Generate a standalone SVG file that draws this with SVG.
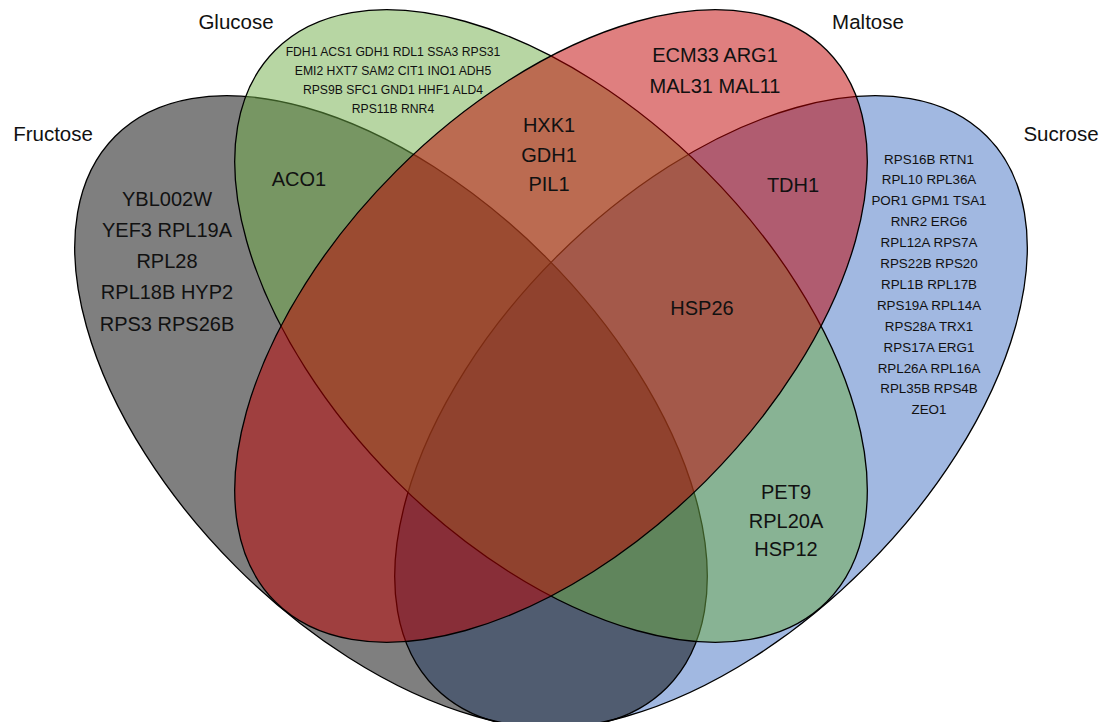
<svg xmlns="http://www.w3.org/2000/svg" width="1105" height="722" viewBox="0 0 1105 722">
<style>
.set{stroke:#000;stroke-width:1.3;fill-opacity:0.5}
text{font-family:"Liberation Sans",Arial,sans-serif;fill:#111;text-anchor:middle}
.lbl{font-size:20.5px}
.big{font-size:20px}
.sm{font-size:13.4px}
.xs{font-size:12.2px}
</style>
<rect width="1105" height="722" fill="#fff"/>
<g id="sets">
<g id="sucrose"><ellipse class="set" cx="0" cy="0" rx="390" ry="219" fill="#4472C4" transform="translate(711,412) rotate(-45)"/></g>
<g id="fructose"><ellipse class="set" cx="0" cy="0" rx="390" ry="219" fill="#000000" transform="translate(391,412) rotate(45)"/></g>
<g id="glucose"><ellipse class="set" cx="0" cy="0" rx="390" ry="219" fill="#70AD47" transform="translate(551,326) rotate(45)"/></g>
<g id="maltose"><ellipse class="set" cx="0" cy="0" rx="390" ry="219" fill="#C00000" transform="translate(551,326) rotate(-45)"/></g>
</g>
<g id="set-labels">
<text class="lbl" x="236" y="29">Glucose</text>
<text class="lbl" x="868" y="29">Maltose</text>
<text class="lbl" x="53" y="141">Fructose</text>
<text class="lbl" x="1061" y="141">Sucrose</text>
</g>
<g id="fructose-only">
<text class="big" x="167" y="206">YBL002W</text>
<text class="big" x="167" y="237">YEF3 RPL19A</text>
<text class="big" x="167" y="268">RPL28</text>
<text class="big" x="167" y="299">RPL18B HYP2</text>
<text class="big" x="167" y="331">RPS3 RPS26B</text>
</g>
<g id="glucose-only">
<text class="xs" x="393" y="55.5">FDH1 ACS1 GDH1 RDL1 SSA3 RPS31</text>
<text class="xs" x="393" y="74.5">EMI2 HXT7 SAM2 CIT1 INO1 ADH5</text>
<text class="xs" x="393" y="93.5">RPS9B SFC1 GND1 HHF1 ALD4</text>
<text class="xs" x="393" y="112.5">RPS11B RNR4</text>
</g>
<g id="fructose-glucose"><text class="big" x="299" y="186">ACO1</text></g>
<g id="glucose-maltose">
<text class="big" x="549" y="132">HXK1</text>
<text class="big" x="549" y="161.5">GDH1</text>
<text class="big" x="549" y="191">PIL1</text>
</g>
<g id="maltose-only">
<text class="big" x="715" y="62">ECM33 ARG1</text>
<text class="big" x="715" y="93">MAL31 MAL11</text>
</g>
<g id="maltose-sucrose"><text class="big" x="793" y="192">TDH1</text></g>
<g id="glucose-maltose-sucrose"><text class="big" x="702" y="315">HSP26</text></g>
<g id="glucose-sucrose">
<text class="big" x="786" y="499">PET9</text>
<text class="big" x="786" y="528">RPL20A</text>
<text class="big" x="786" y="556">HSP12</text>
</g>
<g id="sucrose-only">
<text class="sm" x="929" y="163.5">RPS16B RTN1</text>
<text class="sm" x="929" y="184.4">RPL10 RPL36A</text>
<text class="sm" x="929" y="205.3">POR1 GPM1 TSA1</text>
<text class="sm" x="929" y="226.2">RNR2 ERG6</text>
<text class="sm" x="929" y="247.1">RPL12A RPS7A</text>
<text class="sm" x="929" y="268">RPS22B RPS20</text>
<text class="sm" x="929" y="288.9">RPL1B RPL17B</text>
<text class="sm" x="929" y="309.8">RPS19A RPL14A</text>
<text class="sm" x="929" y="330.7">RPS28A TRX1</text>
<text class="sm" x="929" y="351.6">RPS17A ERG1</text>
<text class="sm" x="929" y="372.5">RPL26A RPL16A</text>
<text class="sm" x="929" y="393.4">RPL35B RPS4B</text>
<text class="sm" x="929" y="414.3">ZEO1</text>
</g>
<g id="connectors"/>
</svg>
